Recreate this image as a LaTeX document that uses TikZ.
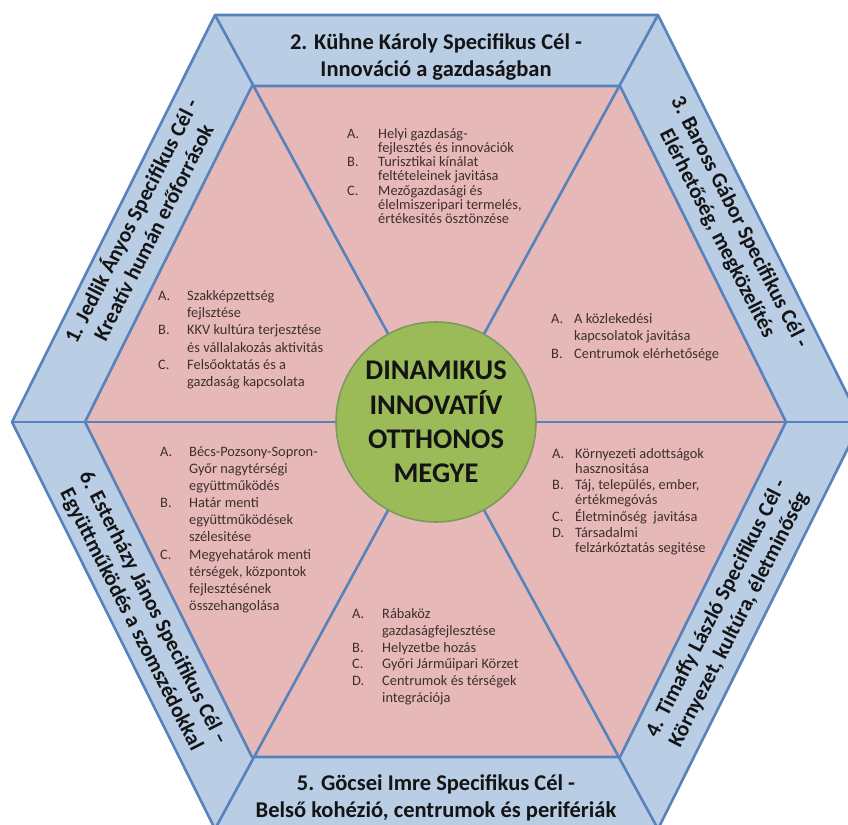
\documentclass[tikz,border=0pt]{standalone}
\usepackage{fontspec}
\setmainfont{Carlito}
\usepackage{array}
\definecolor{bandblue}{HTML}{B9CDE5}
\definecolor{linkblue}{HTML}{5882BC}
\definecolor{sectorpink}{HTML}{E6B9B8}
\definecolor{hubgreen}{HTML}{9BBB59}
\definecolor{hubrim}{HTML}{7D9A5C}
\definecolor{titleblack}{HTML}{141414}
\definecolor{listtxt}{HTML}{3F2E2E}
\newcommand{\goallist}[3]{\fontsize{14.4}{#1}\selectfont\begin{tabular}[t]{@{}p{#2}@{}l@{}}#3\end{tabular}}
\begin{document}
\begin{tikzpicture}[x=1pt,y=1pt,
  hexline/.style={draw=linkblue, line width=2.6pt, line join=round},
  titletext/.style={font=\fontsize{22.5}{26.5}\selectfont\bfseries, text=titleblack, align=center, inner sep=0pt},
  sidetitle/.style={font=\fontsize{21.5}{25}\selectfont\bfseries, text=titleblack, align=center, inner sep=0pt},
  listblock/.style={anchor=base west, inner sep=0pt, text=listtxt},
  hub/.style={circle, fill=hubgreen, draw=hubrim, line width=1.6pt, minimum size=200pt, inner sep=0pt, align=center, font=\fontsize{28.5}{34.3}\selectfont\bfseries, text=titleblack}]
\useasboundingbox (0,0) rectangle (848,824);
\clip (0,0) rectangle (848,824);
\coordinate (C) at (436,402);
\coordinate (O1) at (12,402);
\coordinate (O2) at (215,809);
\coordinate (O3) at (658,809);
\coordinate (O4) at (861,402);
\coordinate (O5) at (658,-5);
\coordinate (O6) at (215,-5);
\coordinate (I1) at (85,402);
\coordinate (I2) at (252,738);
\coordinate (I3) at (620,738);
\coordinate (I4) at (786,402);
\coordinate (I5) at (620,67);
\coordinate (I6) at (252,67);
\fill[bandblue] (O1) -- (O2) -- (O3) -- (O4) -- (O5) -- (O6) -- cycle;
\fill[sectorpink] (I1) -- (I2) -- (I3) -- (I4) -- (I5) -- (I6) -- cycle;
\foreach \k in {1,...,6} \draw[hexline] (C) -- (O\k);
\draw[hexline] (O1) -- (O2) -- (O3) -- (O4) -- (O5) -- (O6) -- cycle;
\draw[hexline] (I1) -- (I2) -- (I3) -- (I4) -- (I5) -- (I6) -- cycle;
\node[hub] (hubnode) at (C) {DINAMIKUS\\INNOVATÍV\\OTTHONOS\\MEGYE};
\node[titletext] (t2) at (436,767) {2. Kühne Károly Specifikus Cél -\\Innováció a gazdaságban};
\node[titletext] (t5) at (436,26) {5. Göcsei Imre Specifikus Cél -\\Belső kohézió, centrumok és perifériák};
\node[sidetitle, rotate=63] (t1) at (141,598) {1. Jedlik Ányos Specifikus Cél -\\Kreatív humán erőforrások};
\node[sidetitle, rotate=-63] (t3) at (728,596) {3. Baross Gábor Specifikus Cél -\\Elérhetőség, megközelítés};
\node[sidetitle, rotate=63] (t4) at (728,210) {4. Timaffy László Specifikus Cél -\\Környezet, kultúra, életminőség};
\node[sidetitle, rotate=-63] (t6) at (142,210) {6. Esterházy János Specifikus Cél –\\Együttműködés a szomszédokkal};
\node[listblock] (g2) at (347,685.5) {\goallist{13.9}{31pt}{A. & Helyi gazdaság-\\ & fejlesztés és innovációk\\ B. & Turisztikai kínálat\\ & feltételeinek javitása\\ C. & Mezőgazdasági és\\ & élelmiszeripari termelés,\\ & értékesités ösztönzése}};
\node[listblock] (g1) at (158,523.5) {\goallist{17.2}{29pt}{A. & Szakképzettség\\ & fejlsztése\\ B. & KKV kultúra terjesztése\\ & és vállalakozás aktivitás\\ C. & Felsőoktatás és a\\ & gazdaság kapcsolata}};
\node[listblock] (g3) at (551,500.5) {\goallist{17.5}{23pt}{A. & A közlekedési\\ & kapcsolatok javitása\\ B. & Centrumok elérhetősége}};
\node[listblock] (g4) at (552,365.5) {\goallist{15.5}{23pt}{A. & Környezeti adottságok\\ & hasznositása\\ B. & Táj, település, ember,\\ & értékmegóvás\\ C. & Életminőség\ \ javitása\\ D. & Társadalmi\\ & felzárkóztatás segitése}};
\node[listblock] (g5) at (352,205.5) {\goallist{16.8}{30pt}{A. & Rábaköz\\ & gazdaságfejlesztése\\ B. & Helyzetbe hozás\\ C. & Győri Járműipari Körzet\\ D. & Centrumok és térségek\\ & integrációja}};
\node[listblock] (g6) at (160,367.5) {\goallist{17.1}{29pt}{A. & Bécs-Pozsony-Sopron-\\ & Győr nagytérségi\\ & együttműködés\\ B. & Határ menti\\ & együttműködések\\ & szélesitése\\ C. & Megyehatárok menti\\ & térségek, központok\\ & fejlesztésének\\ & összehangolása}};
\end{tikzpicture}
\end{document}
